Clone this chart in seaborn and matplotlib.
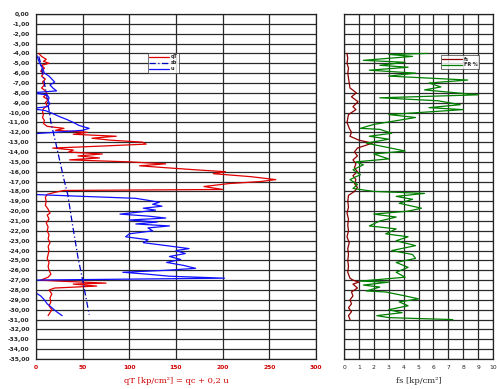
import numpy as np
import pandas as pd
import matplotlib
matplotlib.use("Agg")
import matplotlib.pyplot as plt
from matplotlib.ticker import MultipleLocator, FuncFormatter
import seaborn as sns

# qT [kp/cm2] - sondierprofil
qt_depth = [-4.0, -4.3, -4.6, -4.8, -5.0, -5.2, -5.5, -5.8, -6.0, -6.3, -6.6, -6.9, -7.2, -7.5,
            -7.8, -8.1, -8.4, -8.7, -9.0, -9.3, -9.6, -9.9, -10.2, -10.5, -10.8, -11.1, -11.4,
            -11.6, -11.8, -12.0, -12.2, -12.4, -12.6, -12.8, -13.0, -13.2, -13.4, -13.6, -13.8,
            -14.0, -14.2, -14.4, -14.6, -14.8, -15.0, -15.2, -15.4, -15.6, -15.8, -16.0, -16.2,
            -16.5, -16.8, -17.0, -17.2, -17.5, -17.8, -17.9, -18.1, -18.3, -18.6, -19.0, -19.4,
            -19.8, -20.2, -20.4, -20.8, -21.2, -21.6, -22.0, -22.4, -22.8, -23.2, -23.6, -24.0,
            -24.4, -24.8, -25.2, -25.6, -26.0, -26.4, -26.7, -27.0, -27.1, -27.3, -27.4, -27.6,
            -27.8, -28.0, -28.4, -28.8, -29.2, -29.6, -30.0, -30.3, -30.6]
qt_val = [3, 6, 11, 8, 14, 6, 9, 5, 8, 6, 10, 7, 9, 6,
          10, 12, 8, 13, 10, 12, 8, 7, 8, 7, 9, 8, 12,
          30, 21, 55, 40, 86, 60, 80, 114, 118, 70, 18, 40,
          35, 71, 45, 68, 36, 100, 139, 111, 140, 170, 203, 190,
          230, 257, 240, 207, 180, 200, 30, 20, 12, 10, 11, 10,
          13, 15, 12, 14, 11, 13, 12, 14, 13, 15, 13, 14,
          13, 12, 14, 13, 14, 16, 13, 5, 25, 75, 40, 65,
          20, 14, 17, 15, 16, 14, 17, 15, 13]

# sb - hydrostatischer druck
sb_depth = [-4.3, -5.0, -8.0, -11.0, -13.0, -16.8, -18.3, -21.3, -24.7, -27.0, -30.5]
sb_val = [3, 5, 11, 16, 21, 30, 34, 39, 45, 50, 57]

# u - porenwasserdruck
u_depth = [-4.0, -4.5, -5.0, -5.5, -6.0, -6.3, -6.6, -6.9, -7.2, -7.5, -7.8, -8.0, -8.2, -8.5,
           -8.8, -9.1, -9.4, -9.6, -9.8, -10.1, -10.4, -10.7, -11.0, -11.3, -11.6, -11.8, -12.0,
           -12.2, -13.0, -15.0, -17.0, -18.2, -18.3, -18.5, -18.7, -18.9, -19.1, -19.3, -19.5,
           -19.7, -19.9, -20.1, -20.3, -20.5, -20.7, -20.9, -21.1, -21.3, -21.5, -21.7, -22.0,
           -22.3, -22.6, -22.9, -23.2, -23.5, -23.8, -24.0, -24.3, -24.6, -24.9, -25.2, -25.5,
           -25.8, -26.0, -26.2, -26.4, -26.6, -26.8, -27.0, -27.5, -28.0, -28.3, -28.6, -29.0,
           -29.4, -29.8, -30.2, -30.6]
u_val = [0, 2, 4, 7, 9, 14, 17, 20, 15, 18, 22, -5, 12, 14,
         13, 15, 12, -5, 10, 18, 25, 33, 40, 46, 57, 50, 20,
         -10, -20, -20, -20, -20, -5, 50, 107, 120, 132, 125, 135,
         115, 128, 110, 90, 120, 139, 100, 130, 107, 143, 120, 125,
         100, 96, 120, 115, 140, 164, 150, 160, 143, 155, 140, 158,
         171, 140, 93, 120, 143, 202, -10, -20, -10, 0, 5, 9,
         12, 17, 22, 28]

# fs [kp/cm2] - mantelreibung
fs_depth = [-4.0, -4.5, -5.0, -5.5, -6.0, -6.5, -7.0, -7.5, -8.0, -8.4, -8.9, -9.4, -9.7, -10.2,
            -11.0, -11.6, -12.0, -12.4, -12.8, -13.1, -13.3, -13.6, -14.0, -14.4, -14.8, -15.2,
            -15.6, -16.0, -16.4, -16.8, -17.2, -17.6, -18.0, -18.4, -19.0, -19.6, -20.2, -20.8,
            -21.4, -22.0, -22.6, -23.2, -23.8, -24.4, -25.0, -25.6, -26.2, -26.8, -27.0, -27.2,
            -27.4, -27.8, -28.2, -28.6, -29.0, -29.4, -29.8, -30.2, -30.6, -31.0]
fs_val = [0.2, 0.25, 0.2, 0.3, 0.25, 0.3, 0.35, 0.4, 0.83, 0.5, 0.94, 0.6, 0.8, 0.3,
          0.2, 0.35, 0.5, 0.4, 1.0, 1.9, 1.5, 0.9, 0.7, 0.9, 0.6, 0.8,
          0.7, 0.9, 0.6, 0.8, 0.7, 0.9, 0.7, 0.3, 0.25, 0.3, 0.2, 0.3,
          0.25, 0.3, 0.2, 0.35, 0.25, 0.3, 0.25, 0.3, 0.25, 0.4, 0.6, 1.0,
          0.6, 0.9, 0.5, 0.6, 0.4, 0.5, 0.3, 0.5, 0.3, 0.4]

# FR % - reibungsverhaeltnis
fr_depth = [-4.0, -4.1, -4.3, -4.7, -4.9, -5.2, -5.4, -5.7, -6.0, -6.3, -6.7, -7.0, -7.4, -7.7,
            -8.2, -8.5, -8.8, -9.2, -9.5, -9.7, -10.2, -10.5, -10.9, -11.2, -11.6, -11.7, -12.1,
            -12.4, -12.7, -13.1, -13.9, -14.2, -14.7, -15.0, -15.3, -15.8, -16.3, -16.8, -17.3,
            -17.7, -18.0, -18.2, -18.5, -18.8, -19.2, -19.7, -20.0, -20.3, -20.6, -21.0, -21.5,
            -21.8, -22.3, -22.6, -23.0, -23.5, -24.0, -24.4, -24.8, -25.2, -25.7, -26.2, -26.7,
            -27.1, -27.2, -27.5, -27.7, -28.1, -28.2, -28.6, -28.9, -29.2, -29.6, -30.0, -30.3,
            -30.6, -30.8, -31.0]
fr_val = [5.6, 3.0, 4.6, 1.3, 4.1, 2.4, 4.3, 1.7, 4.8, 3.0, 8.3, 5.7, 6.5, 5.4,
          9.0, 2.4, 6.3, 7.8, 5.7, 8.0, 3.0, 4.8, 3.2, 2.0, 1.1, 2.4, 3.2,
          1.7, 3.0, 1.5, 4.1, 2.0, 3.0, 0.8, 1.3, 0.6, 1.1, 0.4, 0.9,
          0.6, 2.0, 5.4, 3.5, 4.6, 3.7, 5.2, 4.3, 2.0, 3.5, 2.4, 1.7,
          3.5, 2.8, 4.3, 3.5, 4.8, 3.2, 4.6, 4.8, 3.5, 4.3, 3.5, 4.1,
          1.1, 3.0, 1.3, 2.4, 1.5, 2.8, 4.1, 5.0, 3.7, 4.3, 3.0, 3.9,
          2.2, 3.0, 7.3]

sns.set_style("white")
plt.rcParams['font.family'] = ['DejaVu Sans']

fig = plt.figure(figsize=(4.97, 3.89), dpi=100)
ax1 = fig.add_axes([0.0724, 0.0771, 0.5634, 0.8869])
ax2 = fig.add_axes([0.6922, 0.0771, 0.2998, 0.8869])

kw = dict(sort=False, estimator=None, orient='y')
sns.lineplot(x=qt_val, y=qt_depth, color='#e00000', lw=0.9, label='qT', ax=ax1, **kw)
sns.lineplot(x=sb_val, y=sb_depth, color='#0000c0', lw=0.9, label='sb', ax=ax1, **kw)
ax1.lines[-1].set_linestyle((0, (5, 2, 1, 2)))
sns.lineplot(x=u_val, y=u_depth, color='#1010ff', lw=0.9, label='u', ax=ax1, **kw)

sns.lineplot(x=fs_val, y=fs_depth, color='#8b0000', lw=0.9, label='fs', ax=ax2, **kw)
sns.lineplot(x=fr_val, y=fr_depth, color='#008000', lw=0.9, label='FR %', ax=ax2, **kw)

for ax, xmax in [(ax1, 300), (ax2, 10)]:
    ax.set_xlim(0, xmax)
    ax.set_ylim(-35, 0)
    ax.yaxis.set_major_locator(MultipleLocator(1))
    ax.yaxis.set_minor_locator(MultipleLocator(0.5))
    ax.grid(True, which='major', color='#2a2a2a', lw=0.9)
    ax.tick_params(which='major', direction='out', length=3, width=0.7, pad=1.5)
    ax.tick_params(which='minor', direction='out', length=2, width=0.6)
    for s in ax.spines.values():
        s.set_color('#222222')
        s.set_linewidth(0.9)
    ax.set_ylabel('')

ax1.xaxis.set_major_locator(MultipleLocator(50))
ax1.xaxis.set_minor_locator(MultipleLocator(10))
ax1.yaxis.set_major_formatter(FuncFormatter(lambda v, p: f"{v:.2f}".replace('.', ',').replace('-0,00', '0,00')))
ax1.tick_params(axis='y', labelsize=4.3)
ax1.tick_params(axis='x', labelsize=4.3, labelcolor='#d00000')
for t in ax1.get_xticklabels() + ax1.get_yticklabels():
    t.set_fontweight('bold')
ax1.set_xlabel('qT [kp/cm²] = qc + 0,2 u', color='#d00000', fontsize=6, fontfamily='DejaVu Serif', labelpad=5)

ax2.xaxis.set_major_locator(MultipleLocator(1))
ax2.xaxis.set_minor_locator(MultipleLocator(0.5))
ax2.tick_params(axis='y', labelleft=False)
ax2.tick_params(axis='x', labelsize=4.3)
ax2.set_xlabel('fs [kp/cm²]', fontsize=6, fontfamily='DejaVu Serif', labelpad=5)

for ax, anchor in [(ax1, (0.4, 0.887)), (ax2, (0.65, 0.881))]:
    leg = ax.legend(loc='upper left', bbox_to_anchor=anchor, fontsize=3.5, frameon=True,
                    fancybox=False, edgecolor='#333333', handlelength=4, borderpad=0.3,
                    labelspacing=0.2, handletextpad=0.4, borderaxespad=0)
    leg.get_frame().set_linewidth(0.6)
    for t in leg.get_texts():
        t.set_fontweight('bold')

fig.savefig('out.png', dpi=100)
